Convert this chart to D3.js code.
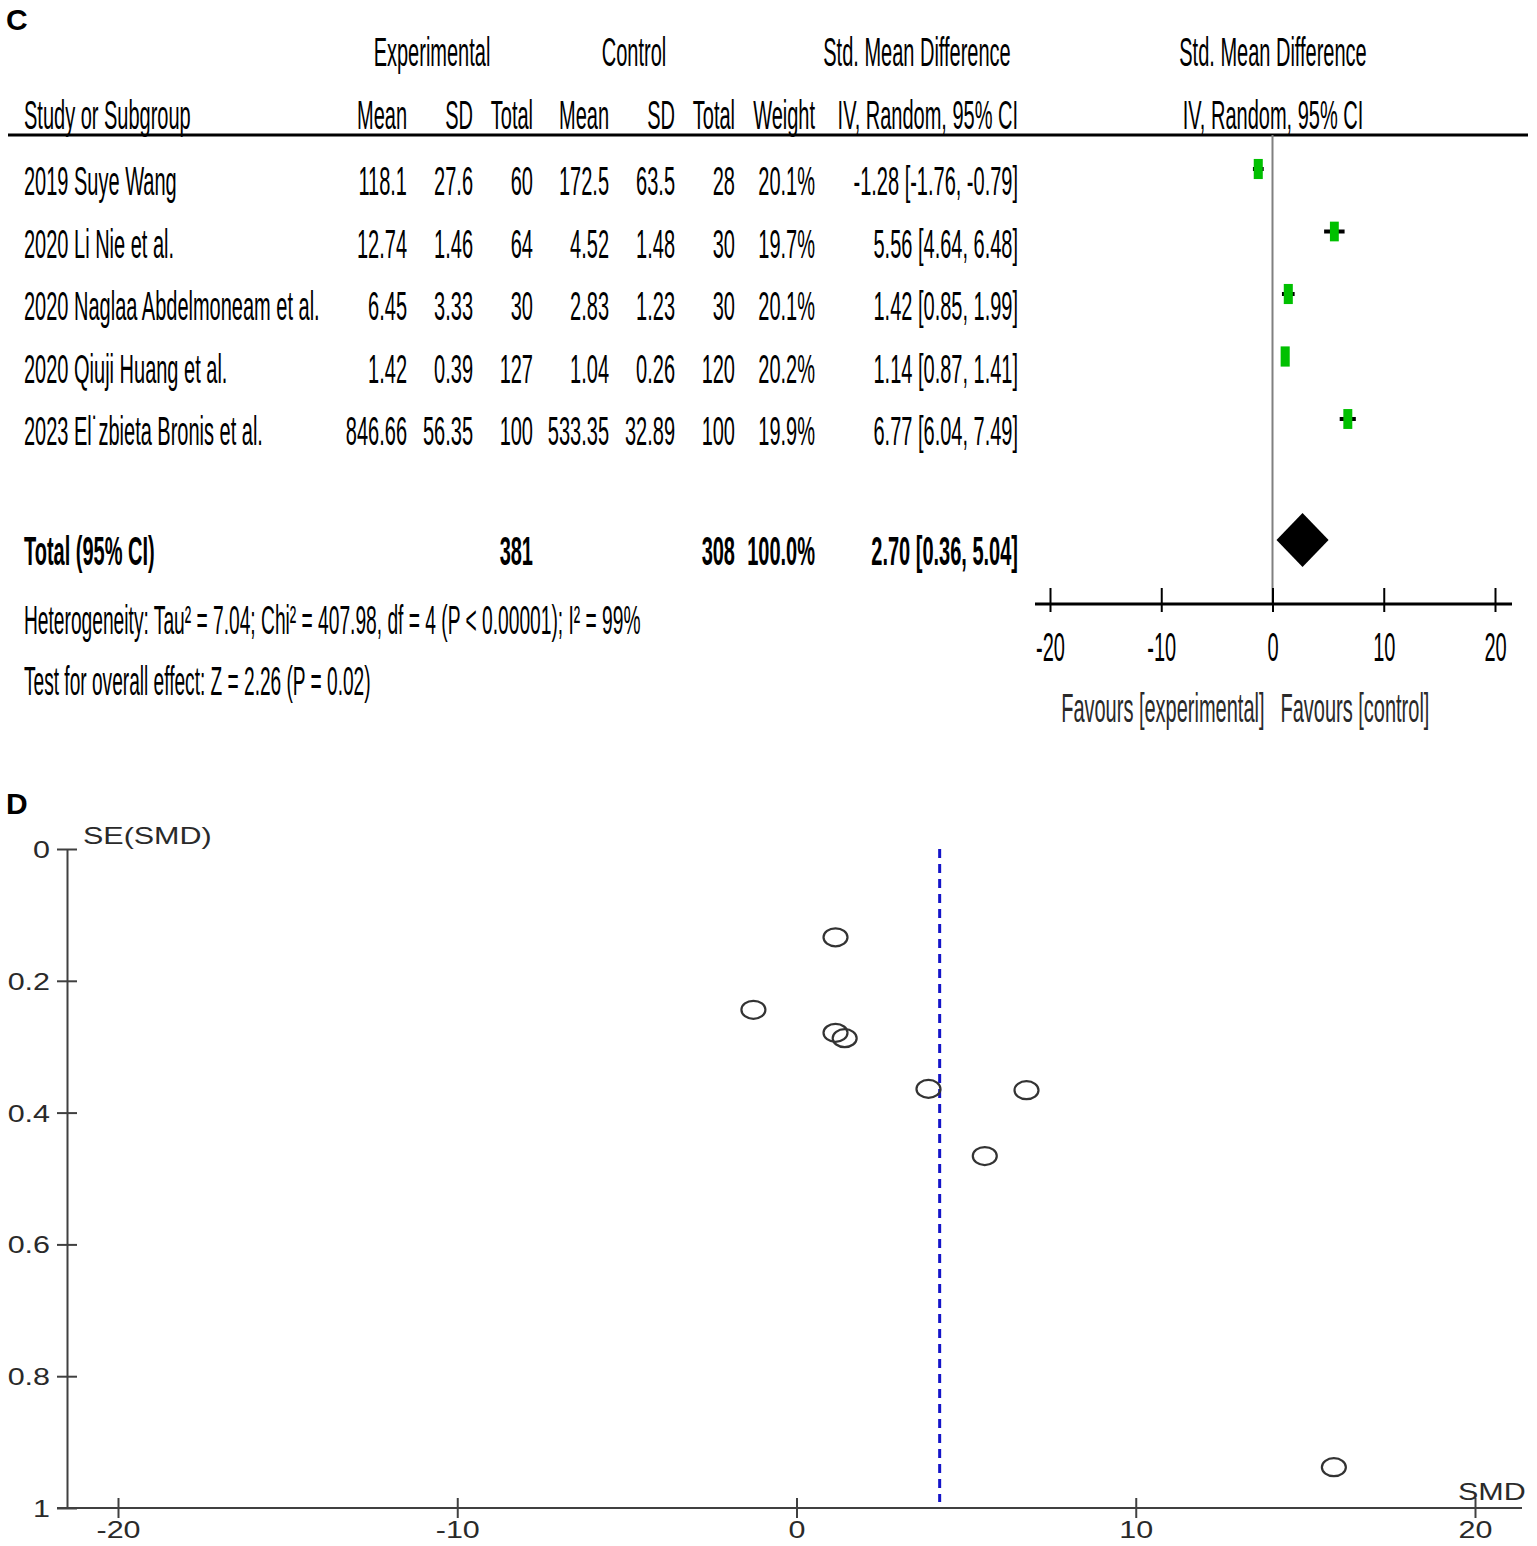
<!DOCTYPE html>
<html>
<head>
<meta charset="utf-8">
<script src="https://cdn.jsdelivr.net/npm/d3@7"></script>
<style>
  body { margin: 0; background: #fff; }
</style>
</head>
<body>
<div id="chart"></div>
<script>
// ---- forest plot data (panel C) ----
var studies = ["2019 Suye Wang", "2020 Li Nie et al.", "2020 Naglaa Abdelmoneam et al.", "2020 Qiuji Huang et al.", "2023 El\u02D9zbieta Bronis et al."];
var expMean = ["118.1", "12.74", "6.45", "1.42", "846.66"];
var expSD = ["27.6", "1.46", "3.33", "0.39", "56.35"];
var expN = [60, 64, 30, 127, 100];
var ctlMean = ["172.5", "4.52", "2.83", "1.04", "533.35"];
var ctlSD = ["63.5", "1.48", "1.23", "0.26", "32.89"];
var ctlN = [28, 30, 30, 120, 100];
var weights = [20.1, 19.7, 20.1, 20.2, 19.9];
var smd = [-1.28, 5.56, 1.42, 1.14, 6.77];
var ciLow = [-1.76, 4.64, 0.85, 0.87, 6.04];
var ciHigh = [-0.79, 6.48, 1.99, 1.41, 7.49];
var total = {expN: 381, ctlN: 308, weight: "100.0%", smd: 2.70, lo: 0.36, hi: 5.04};
var heterogeneity = "Heterogeneity: Tau\u00B2 = 7.04; Chi\u00B2 = 407.98, df = 4 (P < 0.00001); I\u00B2 = 99%";
var overall = "Test for overall effect: Z = 2.26 (P = 0.02)";
var forestTicks = [-20, -10, 0, 10, 20];

// ---- funnel plot data (panel D) ----
var funnelSMD = [1.15, -1.27, 1.15, 1.42, 3.89, 6.78, 5.55, 15.84];
var funnelSE = [0.134, 0.244, 0.279, 0.287, 0.364, 0.366, 0.466, 0.938];
var pooledSMD = 4.22;
var funnelXTicks = [-20, -10, 0, 10, 20];
var funnelYTicks = [0, 0.2, 0.4, 0.6, 0.8, 1];

(function() {
    var W = 1537, H = 1546;
    var svg = d3.select("#chart").append("svg")
        .attr("width", W)
        .attr("height", H);

    var FS = 40, SX = 0.5;          // tall condensed RevMan-style text
    var FONT = "'Liberation Sans', Arial, sans-serif";

    function label(g, x, y, s, anchor, weight, color, sx) {
        return g.append("text")
            .attr("transform", "translate(" + x + "," + y + ") scale(" + (sx || SX) + ",1)")
            .attr("text-anchor", anchor || "start")
            .attr("dy", "0.35em")
            .style("font-family", FONT)
            .style("font-size", FS + "px")
            .style("font-weight", weight || "normal")
            .style("fill", color || "#000")
            .text(s);
    }

    // panel letters
    svg.append("text").attr("x", 6).attr("y", 30).text("C")
        .style("font-family", FONT).style("font-size", "30px").style("font-weight", "bold");
    svg.append("text").attr("x", 6).attr("y", 814).text("D")
        .style("font-family", FONT).style("font-size", "30px").style("font-weight", "bold");

    // ================= panel C: forest plot =================
    var top = svg.append("g");
    var nameX = 24;
    var cols = [
        {x: 407, v: expMean}, {x: 473, v: expSD}, {x: 533, v: expN},
        {x: 609, v: ctlMean}, {x: 675, v: ctlSD}, {x: 735, v: ctlN},
        {x: 815, v: weights.map(w => w.toFixed(1) + "%")}
    ];
    var ciX = 1018;

    // headers
    label(top, 432, 52, "Experimental", "middle");
    label(top, 634, 52, "Control", "middle");
    label(top, 917, 52, "Std. Mean Difference", "middle");
    label(top, 1273, 52, "Std. Mean Difference", "middle");
    label(top, nameX, 115, "Study or Subgroup");
    ["Mean", "SD", "Total", "Mean", "SD", "Total", "Weight"].forEach(function(h, i) {
        label(top, cols[i].x, 115, h, "end");
    });
    label(top, ciX, 115, "IV, Random, 95% CI", "end");
    label(top, 1273, 115, "IV, Random, 95% CI", "middle");

    top.append("line")
        .attr("x1", 8).attr("x2", 1528).attr("y1", 135).attr("y2", 135)
        .attr("stroke", "#000").attr("stroke-width", 3);

    var row = d3.scaleLinear().domain([0, studies.length - 1]).range([181, 431]);
    var fx = d3.scaleLinear().domain([-20, 20]).range([1050, 1495]);
    var fmt = v => v.toFixed(2);
    var ciText = (m, l, h) => fmt(m) + " [" + fmt(l) + ", " + fmt(h) + "]";

    studies.forEach(function(s, i) {
        label(top, nameX, row(i), s);
        cols.forEach(function(c) { label(top, c.x, row(i), String(c.v[i]), "end"); });
        label(top, ciX, row(i), ciText(smd[i], ciLow[i], ciHigh[i]), "end");
    });

    // total row
    var totalY = 551;
    label(top, nameX, totalY, "Total (95% CI)", "start", "bold");
    label(top, cols[2].x, totalY, String(total.expN), "end", "bold");
    label(top, cols[5].x, totalY, String(total.ctlN), "end", "bold");
    label(top, cols[6].x, totalY, total.weight, "end", "bold");
    label(top, ciX, totalY, ciText(total.smd, total.lo, total.hi), "end", "bold");
    label(top, nameX, 620, heterogeneity, "start", "normal", "#000", 0.48);
    label(top, nameX, 681, overall, "start", "normal", "#000", 0.478);

    // forest axis
    var axisY = 604;
    top.append("line")
        .attr("x1", fx(0)).attr("x2", fx(0)).attr("y1", 135).attr("y2", axisY)
        .attr("stroke", "#808080").attr("stroke-width", 2);

    var fAxis = top.append("g")
        .attr("transform", "translate(0," + axisY + ")")
        .call(d3.axisBottom(fx).tickValues(forestTicks).tickSize(0).tickFormat(d => String(d)));
    fAxis.select(".domain").remove();
    fAxis.selectAll(".tick line")
        .attr("y1", -16).attr("y2", 8)
        .attr("stroke", "#000").attr("stroke-width", 2);
    fAxis.selectAll(".tick text")
        .attr("y", 43).attr("dy", "0.35em")
        .attr("transform", "scale(" + SX + ",1)")
        .style("font-family", FONT).style("font-size", FS + "px").style("fill", "#000");
    top.append("line")
        .attr("x1", fx.range()[0] - 15).attr("x2", fx.range()[1] + 17)
        .attr("y1", axisY).attr("y2", axisY)
        .attr("stroke", "#000").attr("stroke-width", 3);

    label(top, fx(0) - 8, 708, "Favours [experimental]", "end", "normal", "#2a2a2a");
    label(top, fx(0) + 8, 708, "Favours [control]", "start", "normal", "#2a2a2a");

    // study markers
    var markY = i => row(i) - 12;
    top.selectAll(".ci").data(studies).enter().append("line")
        .attr("class", "ci")
        .attr("x1", (d, i) => fx(ciLow[i])).attr("x2", (d, i) => fx(ciHigh[i]))
        .attr("y1", (d, i) => markY(i)).attr("y2", (d, i) => markY(i))
        .attr("stroke", "#000").attr("stroke-width", 4);
    top.selectAll(".sq").data(studies).enter().append("rect")
        .attr("class", "sq")
        .attr("x", (d, i) => fx(smd[i]) - weights[i] * 0.45 / 2)
        .attr("y", (d, i) => markY(i) - weights[i] / 2)
        .attr("width", (d, i) => weights[i] * 0.45)
        .attr("height", (d, i) => weights[i])
        .attr("fill", "#00c000");

    // pooled diamond
    var dY = 540, dH = 27;
    top.append("path")
        .attr("d", "M" + fx(total.lo) + "," + dY + "L" + fx(total.smd) + "," + (dY - dH) +
            "L" + fx(total.hi) + "," + dY + "L" + fx(total.smd) + "," + (dY + dH) + "Z")
        .attr("fill", "#000");

    // ================= panel D: funnel plot =================
    var bot = svg.append("g");
    var BFS = 24, BSX = 1.27;
    var AX = "#404040";
    var px = d3.scaleLinear().domain([-20, 20]).range([118, 1475]);
    var py = d3.scaleLinear().domain([0, 1]).range([849, 1508]);
    var axisX = 67;

    var yAxis = bot.append("g")
        .attr("transform", "translate(" + axisX + ",0)")
        .call(d3.axisLeft(py).tickValues(funnelYTicks).tickSize(0).tickFormat(d => String(d)));
    yAxis.select(".domain").attr("stroke", AX).attr("stroke-width", 2);
    yAxis.selectAll(".tick line")
        .attr("x1", -10).attr("x2", 10)
        .attr("stroke", AX).attr("stroke-width", 2);
    yAxis.selectAll(".tick text")
        .attr("x", -17 / BSX).attr("dy", "0.35em")
        .attr("transform", "scale(" + BSX + ",1)")
        .style("font-family", FONT).style("font-size", BFS + "px").style("fill", "#2a2a2a");

    var xAxis = bot.append("g")
        .attr("transform", "translate(0," + py(1) + ")")
        .call(d3.axisBottom(px).tickValues(funnelXTicks).tickSize(0).tickFormat(d => String(d)));
    xAxis.select(".domain").remove();
    xAxis.selectAll(".tick line")
        .attr("y1", -10).attr("y2", 10)
        .attr("stroke", AX).attr("stroke-width", 2);
    xAxis.selectAll(".tick text")
        .attr("y", 22).attr("dy", "0.35em")
        .attr("transform", "scale(" + BSX + ",1)")
        .style("font-family", FONT).style("font-size", BFS + "px").style("fill", "#2a2a2a");
    bot.append("line")
        .attr("x1", axisX - 10).attr("x2", 1522)
        .attr("y1", py(1)).attr("y2", py(1))
        .attr("stroke", AX).attr("stroke-width", 2);

    bot.append("text")
        .attr("transform", "translate(83,836) scale(" + BSX + ",1)")
        .attr("dy", "0.35em")
        .style("font-family", FONT).style("font-size", BFS + "px").style("fill", "#2a2a2a")
        .text("SE(SMD)");
    bot.append("text")
        .attr("transform", "translate(1458,1492) scale(" + BSX + ",1)")
        .attr("dy", "0.35em")
        .style("font-family", FONT).style("font-size", BFS + "px").style("fill", "#2a2a2a")
        .text("SMD");

    bot.append("line")
        .attr("x1", px(pooledSMD)).attr("x2", px(pooledSMD))
        .attr("y1", py(0)).attr("y2", py(1) - 6)
        .attr("stroke", "#1414c8").attr("stroke-width", 3)
        .attr("stroke-dasharray", "9,6");

    bot.selectAll(".pt").data(funnelSMD).enter().append("ellipse")
        .attr("class", "pt")
        .attr("cx", d => px(d))
        .attr("cy", (d, i) => py(funnelSE[i]))
        .attr("rx", 12).attr("ry", 9)
        .attr("fill", "none")
        .attr("stroke", "#333").attr("stroke-width", 2.2);
})();
</script>
</body>
</html>
